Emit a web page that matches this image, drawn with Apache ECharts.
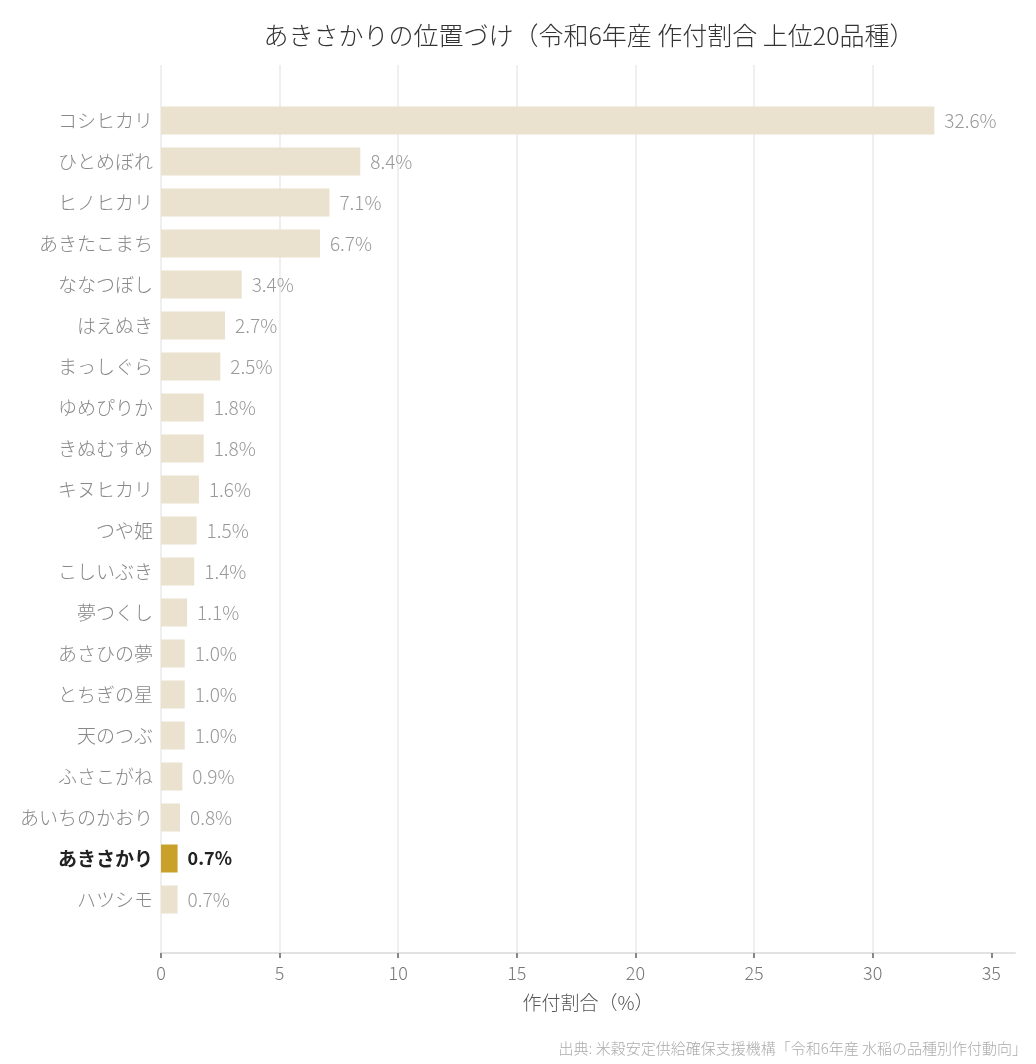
<!DOCTYPE html>
<html>
<head>
<meta charset="utf-8">
<script src="https://cdn.jsdelivr.net/npm/echarts@6/dist/echarts.min.js"></script>
<style>
html, body { margin: 0; padding: 0; background: #fff; }
#chart { width: 1036px; height: 1064px; }
</style>
</head>
<body>
<div id="chart"></div>
<script>
var dom = document.getElementById("chart");
var myChart = echarts.init(dom);

// 品種名（上から順）
var varieties = ['コシヒカリ', 'ひとめぼれ', 'ヒノヒカリ', 'あきたこまち', 'ななつぼし', 'はえぬき',
    'まっしぐら', 'ゆめぴりか', 'きぬむすめ', 'キヌヒカリ', 'つや姫', 'こしいぶき',
    '夢つくし', 'あさひの夢', 'とちぎの星', '天のつぶ', 'ふさこがね', 'あいちのかおり',
    'あきさかり', 'ハツシモ'];
// 作付割合 (%)
var shares = [32.6, 8.4, 7.1, 6.7, 3.4, 2.7, 2.5, 1.8, 1.8, 1.6, 1.5, 1.4, 1.1, 1.0, 1.0, 1.0, 0.9, 0.8, 0.7, 0.7];
var xTicks = [0, 5, 10, 15, 20, 25, 30, 35];
var highlight = 'あきさかり';

var FONT = "'Noto Sans CJK JP', 'Noto Sans', sans-serif";

var barData = [];
for (var i = 0; i < shares.length; i++) {
    var item = { value: shares[i] };
    if (varieties[i] === highlight) {
        item.itemStyle = { color: '#C9A12A' };
        item.label = { color: '#222', fontWeight: 'bold', fontSize: 18 };
    }
    barData.push(item);
}

var option = {
    animation: false,
    textStyle: { fontFamily: FONT, fontWeight: 300 },
    title: {
        text: 'あきさかりの位置づけ（令和6年産 作付割合 上位20品種）',
        left: 584,
        textAlign: 'center',
        top: 18,
        textStyle: { fontSize: 25, fontWeight: 300, color: '#333', fontFamily: FONT }
    },
    grid: [
        { left: 161, right: 21, top: 100, bottom: 144 },  // bars
        { left: 161, right: 21, top: 65, bottom: 111 }    // axis frame
    ],
    xAxis: [
        { gridIndex: 0, type: 'value', min: 0, max: 36, show: false },
        {
            gridIndex: 1, type: 'value', min: 0, max: 36, interval: 5,
            name: '作付割合（%）',
            nameLocation: 'middle',
            nameGap: 40,
            nameTextStyle: { fontSize: 19, fontWeight: 300, color: '#555', fontFamily: FONT },
            axisLine: { show: true, lineStyle: { color: '#e2e2e2', width: 2 } },
            axisTick: { show: true, customValues: xTicks, length: 5, lineStyle: { color: '#888', width: 2 } },
            axisLabel: { customValues: xTicks, fontSize: 18, fontWeight: 300, color: '#777', margin: 11 },
            splitLine: { show: true, showMaxLine: false, lineStyle: { color: '#efefef', width: 2 } }
        }
    ],
    yAxis: [
        {
            gridIndex: 0, type: 'category', data: varieties, inverse: true,
            axisLine: { show: false },
            axisTick: { show: false },
            axisLabel: {
                fontSize: 19, fontWeight: 300, color: '#888', margin: 8,
                formatter: function (v) {
                    return v === highlight ? '{hl|' + v + '}' : v;
                },
                rich: { hl: { fontSize: 19, color: '#222', fontWeight: 'bold', fontFamily: FONT } }
            }
        },
        { gridIndex: 1, type: 'value', min: 0, max: 1, show: false }
    ],
    series: [
        {
            type: 'bar',
            xAxisIndex: 0,
            yAxisIndex: 0,
            data: barData,
            barWidth: 28,
            itemStyle: { color: '#EAE1CE' },
            label: {
                show: true,
                position: 'right',
                distance: 10,
                fontSize: 19,
                fontWeight: 300,
                color: '#999',
                formatter: function (p) { return p.value.toFixed(1) + '%'; }
            }
        }
    ],
    graphic: [
        {
            type: 'text',
            right: 9,
            bottom: 8,
            style: {
                text: '出典: 米穀安定供給確保支援機構「令和6年産 水稲の品種別作付動向」',
                fontSize: 15,
                fontWeight: 300,
                fill: '#aaa',
                fontFamily: FONT
            }
        }
    ]
};

if (option && typeof option === "object") {
    myChart.setOption(option, true);
}
</script>
</body>
</html>
